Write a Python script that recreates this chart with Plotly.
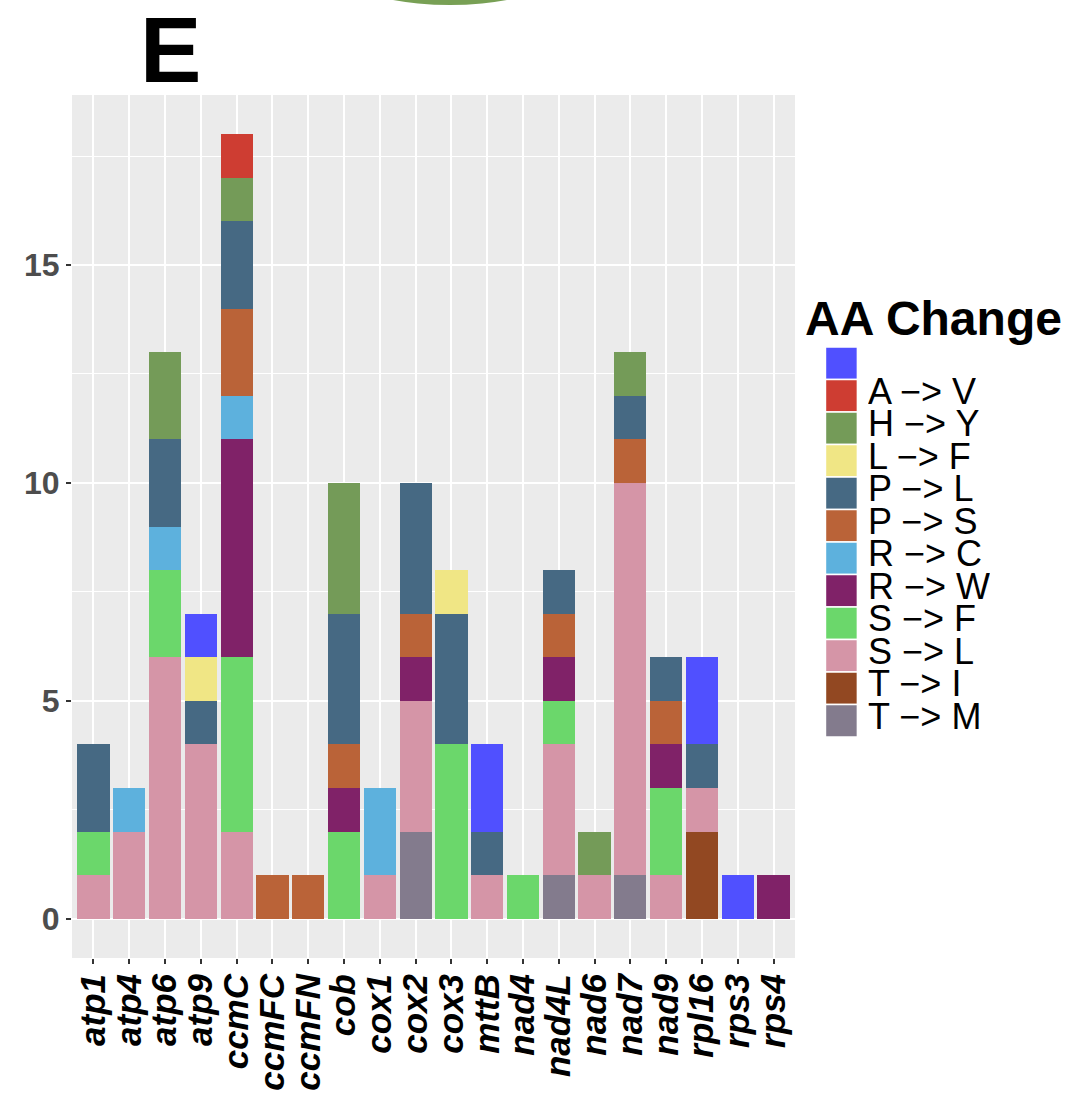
import plotly.graph_objects as go

# ---------------- data ----------------
genes = ["atp1", "atp4", "atp6", "atp9", "ccmC", "ccmFC", "ccmFN", "cob", "cox1", "cox2",
         "cox3", "mttB", "nad4", "nad4L", "nad6", "nad7", "nad9", "rpl16", "rps3", "rps4"]

# legend order (top of stack first, as in ggplot)
levels = ["", "A \u2212> V", "H \u2212> Y", "L \u2212> F", "P \u2212> L", "P \u2212> S",
          "R \u2212> C", "R \u2212> W", "S \u2212> F", "S \u2212> L", "T \u2212> I", "T \u2212> M"]

blank = [0, 0, 0, 1, 0, 0, 0, 0, 0, 0, 0, 2, 0, 0, 0, 0, 0, 2, 1, 0]
a_v   = [0, 0, 0, 0, 1, 0, 0, 0, 0, 0, 0, 0, 0, 0, 0, 0, 0, 0, 0, 0]
h_y   = [0, 0, 2, 0, 1, 0, 0, 3, 0, 0, 0, 0, 0, 0, 1, 1, 0, 0, 0, 0]
l_f   = [0, 0, 0, 1, 0, 0, 0, 0, 0, 0, 1, 0, 0, 0, 0, 0, 0, 0, 0, 0]
p_l   = [2, 0, 2, 1, 2, 0, 0, 3, 0, 3, 3, 1, 0, 1, 0, 1, 1, 1, 0, 0]
p_s   = [0, 0, 0, 0, 2, 1, 1, 1, 0, 1, 0, 0, 0, 1, 0, 1, 1, 0, 0, 0]
r_c   = [0, 1, 1, 0, 1, 0, 0, 0, 2, 0, 0, 0, 0, 0, 0, 0, 0, 0, 0, 0]
r_w   = [0, 0, 0, 0, 5, 0, 0, 1, 0, 1, 0, 0, 0, 1, 0, 0, 1, 0, 0, 1]
s_f   = [1, 0, 2, 0, 4, 0, 0, 2, 0, 0, 4, 0, 1, 1, 0, 0, 2, 0, 0, 0]
s_l   = [1, 2, 6, 4, 2, 0, 0, 0, 1, 3, 0, 1, 0, 3, 1, 9, 1, 1, 0, 0]
t_i   = [0, 0, 0, 0, 0, 0, 0, 0, 0, 0, 0, 0, 0, 0, 0, 0, 0, 2, 0, 0]
t_m   = [0, 0, 0, 0, 0, 0, 0, 0, 0, 2, 0, 0, 0, 1, 0, 1, 0, 0, 0, 0]

series = [blank, a_v, h_y, l_f, p_l, p_s, r_c, r_w, s_f, s_l, t_i, t_m]

colors = ["#5050FF", "#CE3D32", "#749B58", "#F0E685", "#466983", "#BA6338",
          "#5DB1DD", "#802268", "#6BD76B", "#D595A7", "#924822", "#837B8D"]

y_ticks = [0, 5, 10, 15]
y_range = [-0.9, 18.9]
legend_title = "AA Change"
panel_label = "E"

# ---------------- layout constants (pixels) ----------------
W, H = 1078, 1100
L_PX, R_PX, T_PX, B_PX = 71.5, 795.5, 95, 958
FONT = "Liberation Sans, Arial, Helvetica, sans-serif"


def px_x(px):
    return (px - L_PX) / (R_PX - L_PX)


def px_y(py):
    return (B_PX - py) / (B_PX - T_PX)


fig = go.Figure()

# stack bottom-up: last level first
for name, vals, col in reversed(list(zip(levels, series, colors))):
    fig.add_trace(go.Bar(x=genes, y=vals, name=name, marker=dict(color=col, line=dict(width=0)),
                         width=0.9, showlegend=False))

shapes = []
annotations = []

# manual legend (ggplot style)
key_x0, key_x1 = 826, 858
key_top, key_h = 347, 32.5
for i, (name, col) in enumerate(zip(levels, colors)):
    y0 = key_top + i * key_h
    y1 = y0 + key_h
    shapes.append(dict(type="rect", xref="paper", yref="paper",
                       x0=px_x(key_x0), x1=px_x(key_x1), y0=px_y(y1), y1=px_y(y0),
                       fillcolor=col, line=dict(color="white", width=1.5)))
    if name:
        annotations.append(dict(text=name, xref="paper", yref="paper",
                                x=px_x(867), y=px_y((y0 + y1) / 2 - 5),
                                xanchor="left", yanchor="middle", showarrow=False,
                                height=32, valign="middle",
                                font=dict(family=FONT, size=36, color="black")))

annotations.append(dict(text="<b>" + legend_title + "</b>", xref="paper", yref="paper",
                        x=px_x(804), y=px_y(318), xanchor="left", yanchor="middle",
                        showarrow=False, font=dict(family=FONT, size=48, color="black")))

annotations.append(dict(text="<b>" + panel_label + "</b>", xref="paper", yref="paper",
                        x=px_x(138), y=px_y(50), xanchor="left", yanchor="middle",
                        showarrow=False, font=dict(family=FONT, size=92, color="black")))

# fragment of the neighbouring panel (green arc at the very top)
shapes.append(dict(type="circle", xref="paper", yref="paper",
                   x0=px_x(123), x1=px_x(777), y0=px_y(5), y1=px_y(-649),
                   fillcolor="#78A055", line=dict(width=0), layer="above"))

fig.update_layout(
    width=W, height=H,
    margin=dict(l=L_PX, r=W - R_PX, t=T_PX, b=H - B_PX, pad=0, autoexpand=False),
    paper_bgcolor="white",
    plot_bgcolor="#EBEBEB",
    barmode="stack",
    bargap=0.1,
    showlegend=False,
    shapes=shapes,
    annotations=annotations,
    xaxis=dict(
        type="category", categoryorder="array", categoryarray=genes,
        tickmode="array", tickvals=genes, ticktext=genes,
        range=[-0.6, len(genes) - 0.4], automargin=False,
        showgrid=True, gridcolor="white", gridwidth=2,
        ticks="outside", ticklen=5, tickwidth=2, tickcolor="#333333",
        tickangle=-90, ticklabelstandoff=-4,
        tickfont=dict(family=FONT, size=35, color="black", weight="bold", style="italic"),
        showline=False, zeroline=False,
    ),
    yaxis=dict(
        range=y_range, tickvals=y_ticks, ticktext=[str(v) for v in y_ticks],
        automargin=False,
        showgrid=True, gridcolor="white", gridwidth=2,
        minor=dict(dtick=2.5, tick0=0, showgrid=True, gridcolor="white", gridwidth=1, ticks=""),
        ticks="outside", ticklen=5, tickwidth=2, tickcolor="#333333",
        tickfont=dict(family=FONT, size=32, color="#4D4D4D", weight="bold"),
        showline=False, zeroline=False,
    ),
)

fig.write_html("out.html", config={"displayModeBar": False},
               post_script="document.body.style.margin='0';document.body.style.overflow='hidden';")
